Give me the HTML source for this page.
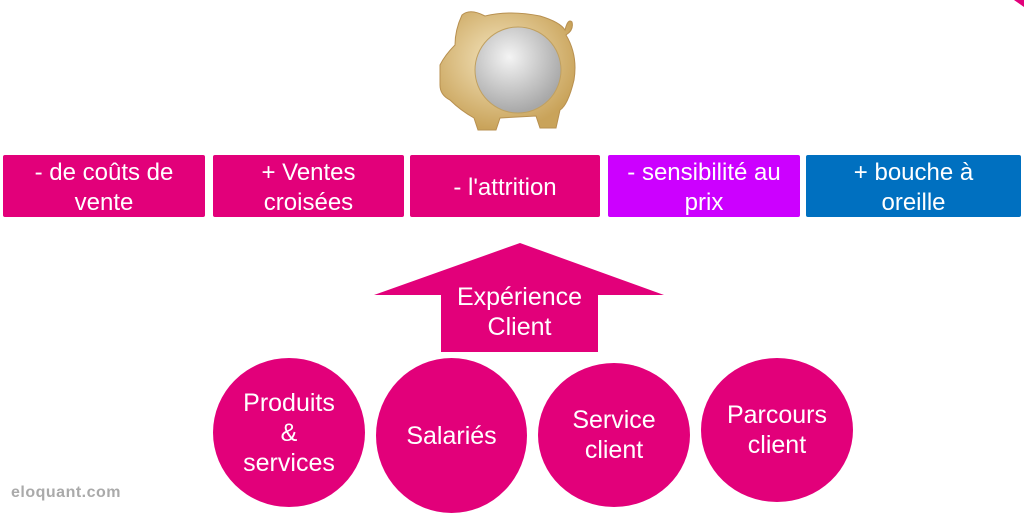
<!DOCTYPE html>
<html><head><meta charset="utf-8"><style>
body{margin:0;width:1024px;height:517px;background:#fff;position:relative;overflow:hidden;font-family:"Liberation Sans",sans-serif}
.b{position:absolute;top:155px;height:62px;color:#fff;font-size:24px;line-height:30px;display:flex;align-items:center;justify-content:center;text-align:center;border-radius:2px;box-sizing:border-box;padding-top:3px}
.c{position:absolute;background:#e2007a;border-radius:50%;color:#fff;font-size:25px;line-height:30px;display:flex;align-items:center;justify-content:center;text-align:center}
</style></head><body>
<svg style="position:absolute;left:0;top:0" width="1024" height="517">
<defs><radialGradient id="g" cx="45%" cy="40%" r="60%"><stop offset="0" stop-color="#f5e6c0"/><stop offset="1" stop-color="#c9a35a"/></radialGradient>
<radialGradient id="s" cx="40%" cy="35%" r="65%"><stop offset="0" stop-color="#f4f4f4"/><stop offset="1" stop-color="#a8a8a8"/></radialGradient></defs>
<path d="M462 15 Q470 8 485 16 Q510 10 540 16 Q560 22 565 30 Q568 18 572 22 Q574 30 566 35 Q578 55 574 80 Q568 105 560 110 L556 128 L540 128 L536 116 L500 118 L496 130 L478 130 L474 118 Q460 110 450 100 Q440 95 440 85 L440 65 Q445 55 455 45 Q455 30 462 15Z" fill="url(#g)" stroke="#b89050"/>
<circle cx="518" cy="70" r="43" fill="url(#s)" stroke="#c0a060"/>
<polygon points="520,243 664,295 598,295 598,352 441,352 441,295 374,295" fill="#e2007a"/>
<polygon points="1014,0 1024,0 1024,7" fill="#e2007a"/>
</svg>
<div class="b" style="left:3px;width:202px;background:#e2007a">- de coûts de<br>vente</div>
<div class="b" style="left:213px;width:191px;background:#e2007a">+ Ventes<br>croisées</div>
<div class="b" style="left:410px;width:190px;background:#e2007a">- l'attrition</div>
<div class="b" style="left:608px;width:192px;background:#cc00ff">- sensibilité au<br>prix</div>
<div class="b" style="left:806px;width:215px;background:#0070c0">+ bouche à<br>oreille</div>
<div style="position:absolute;left:421px;top:282px;width:197px;text-align:center;color:#fff;font-size:25px;line-height:30px">Expérience<br>Client</div>
<div class="c" style="left:213px;top:358px;width:152px;height:149px">Produits<br>&amp;<br>services</div>
<div class="c" style="left:376px;top:358px;width:151px;height:155px">Salariés</div>
<div class="c" style="left:538px;top:363px;width:152px;height:144px">Service<br>client</div>
<div class="c" style="left:701px;top:358px;width:152px;height:144px">Parcours<br>client</div>
<div style="position:absolute;left:11px;top:484px;color:#aaa;font-weight:bold;font-size:16px;letter-spacing:0.5px">eloquant.com</div>
</body></html>
